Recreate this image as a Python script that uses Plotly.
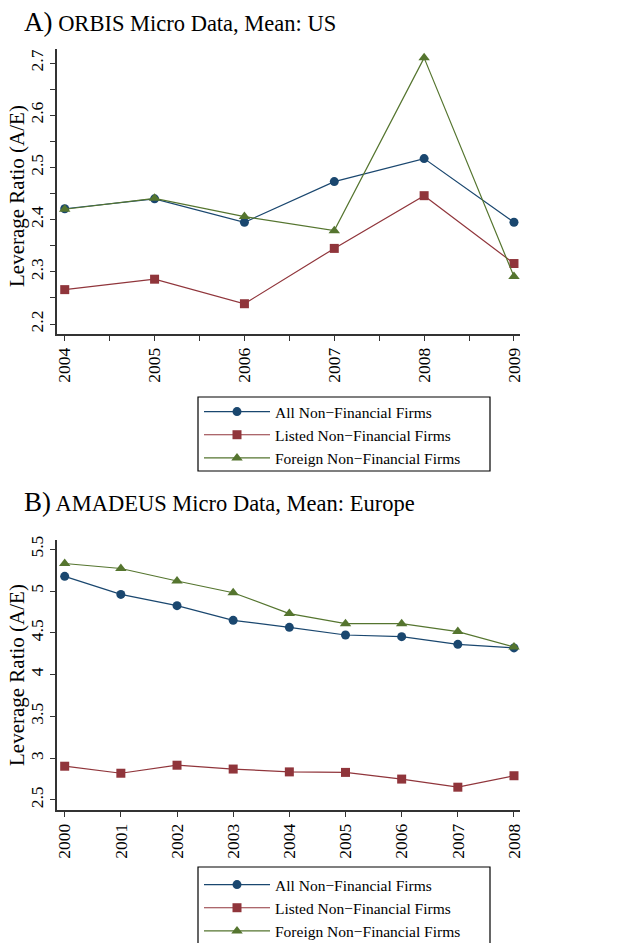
import plotly.graph_objects as go

W, H = 622, 943

years_a = [2004, 2005, 2006, 2007, 2008, 2009]
all_a = [2.421, 2.440, 2.395, 2.473, 2.517, 2.395]
listed_a = [2.266, 2.286, 2.239, 2.345, 2.446, 2.316]
foreign_a = [2.420, 2.441, 2.406, 2.379, 2.710, 2.291]

years_b = [2000, 2001, 2002, 2003, 2004, 2005, 2006, 2007, 2008]
all_b = [5.176, 4.960, 4.825, 4.650, 4.566, 4.474, 4.454, 4.362, 4.320]
listed_b = [2.904, 2.820, 2.916, 2.870, 2.836, 2.830, 2.750, 2.653, 2.790]
foreign_b = [5.330, 5.270, 5.120, 4.980, 4.730, 4.610, 4.610, 4.515, 4.330]

series_names = ["All Non\u2212Financial Firms", "Listed Non\u2212Financial Firms",
                "Foreign Non\u2212Financial Firms"]
colors = ["#1a476f", "#90353b", "#55752f"]
symbols = ["circle", "square", "triangle-up"]
msizes = [9, 9, 10]

FONT = "Liberation Serif, Times New Roman, serif"

def px_x(p):
    return p / W

def px_y(p):
    return 1 - p / H

fig = go.Figure()

for i, vals in enumerate([all_a, listed_a, foreign_a]):
    fig.add_trace(go.Scatter(
        x=years_a, y=vals, mode="lines+markers", name=series_names[i],
        line=dict(color=colors[i], width=1.2),
        marker=dict(color=colors[i], symbol=symbols[i], size=msizes[i]),
        xaxis="x", yaxis="y", legend="legend"))

for i, vals in enumerate([all_b, listed_b, foreign_b]):
    fig.add_trace(go.Scatter(
        x=years_b, y=vals, mode="lines+markers", name=series_names[i],
        line=dict(color=colors[i], width=1.2),
        marker=dict(color=colors[i], symbol=symbols[i], size=msizes[i]),
        xaxis="x2", yaxis="y2", legend="legend2"))

axis_common = dict(
    showgrid=False, zeroline=False, showline=True, linecolor="#333333",
    linewidth=1.5, ticks="outside", ticklen=5, tickwidth=1, tickcolor="#333333",
    tickfont=dict(family=FONT, size=17.5, color="black"), tickangle=-90,
    automargin=False)

x_dom = [px_x(57), px_x(520)]

fig.update_layout(
    width=W, height=H, margin=dict(l=0, r=0, t=0, b=0, autoexpand=False),
    plot_bgcolor="white", paper_bgcolor="white",
    font=dict(family=FONT, color="black"),
    xaxis=dict(axis_common, domain=x_dom, anchor="y",
               range=[2003.914, 2009.067], tickvals=years_a,
               minor=dict(tickvals=[2004.5, 2005.5, 2006.5, 2007.5, 2008.5],
                          ticks="outside", ticklen=5, tickcolor="#333333")),
    yaxis=dict(axis_common, domain=[px_y(334), px_y(49)], anchor="x",
               range=[2.181, 2.727], tickvals=[2.2, 2.3, 2.4, 2.5, 2.6, 2.7],
               ticktext=["2.2", "2.3", "2.4", "2.5", "2.6", "2.7"],
               minor=dict(tickvals=[2.25, 2.35, 2.45, 2.55, 2.65],
                          ticks="outside", ticklen=5, tickcolor="#333333")),
    xaxis2=dict(axis_common, domain=x_dom, anchor="y2",
                range=[1999.863, 2008.107], tickvals=years_b),
    yaxis2=dict(axis_common, domain=[px_y(810), px_y(540)], anchor="x2",
                range=[2.38, 5.611], tickvals=[2.5, 3, 3.5, 4, 4.5, 5, 5.5],
                ticktext=["2.5", "3", "3.5", "4", "4.5", "5", "5.5"]),
    legend=dict(x=px_x(199), y=px_y(395), xanchor="left", yanchor="top",
                bgcolor="rgba(0,0,0,0)", borderwidth=0,
                font=dict(family=FONT, size=15.5), itemwidth=66,
                tracegroupgap=0),
    legend2=dict(x=px_x(199), y=px_y(868), xanchor="left", yanchor="top",
                 bgcolor="rgba(0,0,0,0)", borderwidth=0,
                 font=dict(family=FONT, size=15.5), itemwidth=66,
                 tracegroupgap=0),
    showlegend=True,
)

# y-axis titles
for yc in (196, 675):
    fig.add_annotation(text="Leverage Ratio (A/E)", textangle=-90,
                       xref="paper", yref="paper", x=px_x(17), y=px_y(yc),
                       xanchor="center", yanchor="middle", showarrow=False,
                       font=dict(family=FONT, size=21, color="black"))

# legend frames
fig.add_shape(type="rect", xref="paper", yref="paper",
              x0=px_x(198), x1=px_x(490), y0=px_y(471), y1=px_y(397),
              line=dict(color="black", width=1.2), fillcolor="rgba(0,0,0,0)")
fig.add_shape(type="rect", xref="paper", yref="paper",
              x0=px_x(198), x1=px_x(490), y0=px_y(946), y1=px_y(867),
              line=dict(color="black", width=1.2), fillcolor="rgba(0,0,0,0)")

# panel titles
fig.add_annotation(text="<span style='font-size:27px'>A)</span> ORBIS Micro Data, Mean: US",
                   xref="paper", yref="paper", x=px_x(22), y=px_y(39),
                   xanchor="left", yanchor="bottom", showarrow=False,
                   font=dict(family=FONT, size=22.5, color="black"))
fig.add_annotation(text="<span style='font-size:27px'>B)</span> AMADEUS Micro Data, Mean: Europe",
                   xref="paper", yref="paper", x=px_x(22), y=px_y(519),
                   xanchor="left", yanchor="bottom", showarrow=False,
                   font=dict(family=FONT, size=22.5, color="black"))

fig.write_html("out.html", config={"displayModeBar": False},
               post_script="document.body.style.margin='0px';")
